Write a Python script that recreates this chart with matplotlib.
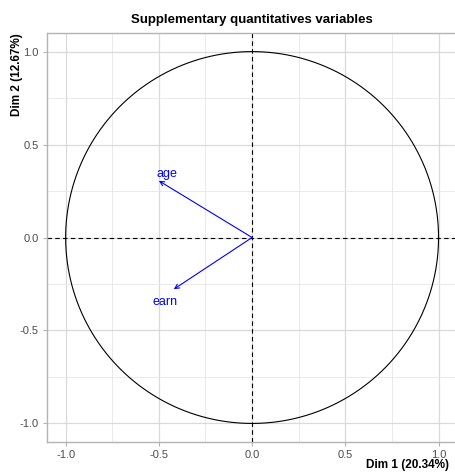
import numpy as np
import matplotlib
matplotlib.use("Agg")
import matplotlib.pyplot as plt

plt.rcParams["font.family"] = ["Liberation Sans", "DejaVu Sans"]

variables = ["age", "earn"]
dim1 = [-0.50, -0.42]
dim2 = [0.305, -0.278]
label_offsets = [(0.045, 0.035), (-0.045, -0.07)]
ticks = [-1.0, -0.5, 0.0, 0.5, 1.0]
tick_labels = ["-1.0", "-0.5", "0.0", "0.5", "1.0"]

fig = plt.figure(figsize=(4.55, 4.73), dpi=100)
ax = fig.add_axes([0.1033, 0.0655, 0.9015, 0.8647])
ax.set_xlim(-1.1, 1.1)
ax.set_ylim(-1.1, 1.1)

ax.set_xticks(ticks)
ax.set_yticks(ticks)
ax.set_xticklabels(tick_labels)
ax.set_yticklabels(tick_labels)
ax.set_xticks([-0.75, -0.25, 0.25, 0.75], minor=True)
ax.set_yticks([-0.75, -0.25, 0.25, 0.75], minor=True)
ax.grid(True, which="major", color="#dadada", linewidth=0.9)
ax.grid(True, which="minor", color="#e6e6e6", linewidth=0.6)
ax.set_axisbelow(True)
ax.tick_params(which="major", length=3, color="#b3b3b3", labelsize=8, labelcolor="#4d4d4d", width=0.8, pad=3)
ax.tick_params(which="minor", length=0)
for s in ax.spines.values():
    s.set_color("#b3b3b3")
    s.set_linewidth(1.0)

theta = np.linspace(0, 2 * np.pi, 400)
ax.plot(np.cos(theta), np.sin(theta), color="black", linewidth=0.8)
ax.axhline(0, color="black", linestyle=(0, (4, 3)), linewidth=0.8)
ax.axvline(0, color="black", linestyle=(0, (4, 3)), linewidth=0.8)

for name, x, y, off in zip(variables, dim1, dim2, label_offsets):
    ax.annotate("", xy=(x, y), xytext=(0, 0),
                arrowprops=dict(arrowstyle="->", color="blue", lw=0.8,
                                shrinkA=0, shrinkB=0, mutation_scale=8))
    ax.text(x + off[0], y + off[1], name, color="blue", fontsize=9,
            ha="center", va="center")

fig.text(0.5527, 0.957, "Supplementary quantitatives variables", ha="center",
         va="center", fontsize=9.5, fontweight="bold")
fig.text(0.987, 0.004, "Dim 1 (20.34%)", ha="right", va="bottom",
         fontsize=8.5, fontweight="bold")
fig.text(0.024, 0.93, "Dim 2 (12.67%)", ha="left", va="top", rotation=90,
         fontsize=8.5, fontweight="bold")

fig.savefig("out.png", dpi=100)
